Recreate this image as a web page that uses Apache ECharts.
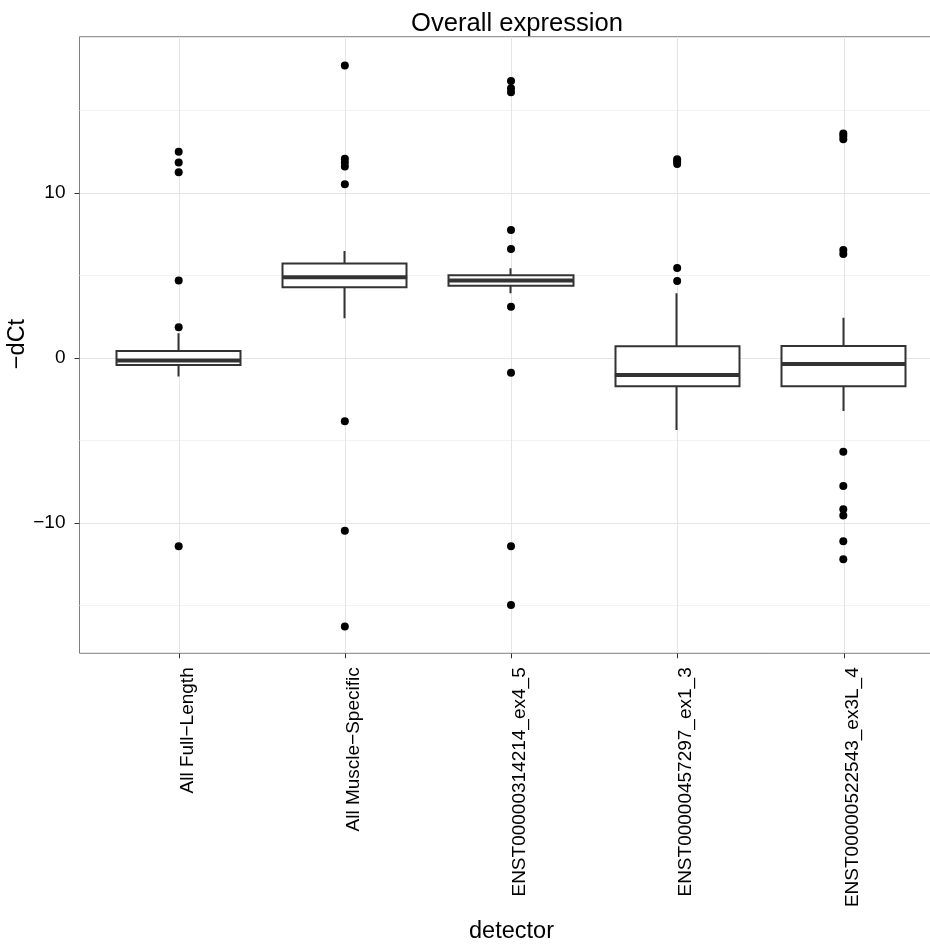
<!DOCTYPE html>
<html>
<head>
<meta charset="utf-8">
<script src="https://cdn.jsdelivr.net/npm/echarts@6/dist/echarts.min.js"></script>
<style>
html,body{margin:0;padding:0;background:#fff;}
#chart{width:930px;height:945px;}
</style>
</head>
<body>
<div id="chart"></div>
<script>
// ---- data ----
const categories = ['All Full\u2212Length', 'All Muscle\u2212Specific', 'ENST00000314214_ex4_5', 'ENST00000457297_ex1_3', 'ENST00000522543_ex3L_4'];
const whiskerLow  = [-1.13, 2.40, 3.92, -4.36, -3.21];
const boxQ1       = [-0.42, 4.28, 4.38, -1.72, -1.72];
const boxMedian   = [-0.16, 4.89, 4.69, -1.03, -0.36];
const boxQ3       = [0.42, 5.72, 5.01, 0.71, 0.73];
const whiskerHigh = [1.50, 6.48, 5.43, 3.92, 2.44];
const outliers1 = [12.5, 11.84, 11.25, 4.69, 1.86, -11.41];
const outliers2 = [17.72, 12.08, 11.84, 11.6, 10.53, -3.84, -10.48, -16.28];
const outliers3 = [16.79, 16.34, 16.1, 7.76, 6.6, 3.11, -0.89, -11.41, -14.97];
const outliers4 = [12.05, 11.9, 11.75, 5.45, 4.67];
const outliers5 = [13.6, 13.45, 13.25, 6.55, 6.3, -5.68, -7.76, -9.17, -9.55, -11.11, -12.2];
const yMajorTicks = [-10, 0, 10];
const yMinorGrid = [-15, -5, 5, 15];
const xPositions = [1, 2, 3, 4, 5];
const yRange = [-17.9, 19.47];
const xRange = [0.4, 5.6];

// ---- build ----
const outlierSets = [outliers1, outliers2, outliers3, outliers4, outliers5];
const outlierData = [];
outlierSets.forEach((arr, i) => arr.forEach(v => outlierData.push([i, v])));
const candleData = categories.map((c, i) => [boxQ1[i], boxQ3[i], whiskerLow[i], whiskerHigh[i]]);
const medianData = categories.map((c, i) => [i, boxMedian[i]]);

const FONT = "'Liberation Sans', Arial, Helvetica, sans-serif";
const G_TOP = 36.7, G_H = 616.6;
const G0_LEFT = 79.5, G0_W = 864;
const G1_LEFT = 95.6, G1_W = 830.8;
const boxW = G1_W / categories.length * 0.75;
const minus = v => String(v).replace('-', '\u2212');

const chart = echarts.init(document.getElementById('chart'), null, {renderer: 'canvas'});
chart.setOption({
  animation: false,
  backgroundColor: '#ffffff',
  textStyle: {fontFamily: FONT},
  title: {
    text: 'Overall expression',
    left: 512, top: 6, textAlign: 'center',
    textStyle: {fontFamily: FONT, fontSize: 25.6, fontWeight: 'normal', color: '#000'}
  },
  graphic: [
    {type: 'text', x: 18, y: 344, rotation: Math.PI / 2, silent: true,
     style: {text: '\u2212dCt', fill: '#000', font: '23.5px ' + FONT, align: 'center', verticalAlign: 'middle'}}
  ],
  grid: [
    {left: G0_LEFT, top: G_TOP, width: G0_W, height: G_H, show: true, outerBoundsMode: 'none',
     borderColor: '#7f7f7f', borderWidth: 1, backgroundColor: '#fff', containLabel: false},
    {left: G1_LEFT, top: G_TOP, width: G1_W, height: G_H, show: false, outerBoundsMode: 'none', containLabel: false}
  ],
  xAxis: [
    {gridIndex: 0, type: 'value', min: xRange[0], max: xRange[1],
     axisLine: {show: false, onZero: false},
     axisTick: {show: true, customValues: xPositions, length: 5, lineStyle: {color: '#333', width: 1}},
     axisLabel: {show: true, customValues: xPositions, rotate: 90, margin: 14,
       fontFamily: FONT, fontSize: 19, color: '#000', verticalAlign: 'top', lineHeight: 17,
       formatter: v => categories[Math.round(v) - 1]},
     splitLine: {show: true, lineStyle: {color: '#e5e5e5', width: 1}},
     name: 'detector', nameLocation: 'middle', nameGap: 266,
     nameTextStyle: {fontFamily: FONT, fontSize: 23.5, color: '#000'}},
    {gridIndex: 1, type: 'category', data: categories, boundaryGap: true, show: false,
     axisLine: {onZero: false}}
  ],
  yAxis: [
    {gridIndex: 0, type: 'value', min: yRange[0], max: yRange[1], position: 'left',
     axisLine: {show: false, onZero: false},
     axisTick: {show: true, customValues: yMajorTicks, length: 5, lineStyle: {color: '#333', width: 1}},
     axisLabel: {show: true, customValues: yMajorTicks, margin: 14, fontFamily: FONT, fontSize: 19, color: '#000',
       formatter: v => minus(v)},
     splitLine: {show: true, lineStyle: {color: '#e5e5e5', width: 1}}},
    {gridIndex: 0, type: 'value', min: yRange[0], max: yRange[1], position: 'left', offset: 0,
     axisLine: {show: false, onZero: false},
     axisTick: {show: false, customValues: yMinorGrid},
     axisLabel: {show: false, customValues: yMinorGrid},
     splitLine: {show: true, lineStyle: {color: '#f3f3f3', width: 1}}},
    {gridIndex: 1, type: 'value', min: yRange[0], max: yRange[1], show: false, axisLine: {onZero: false}}
  ],
  series: [
    {type: 'candlestick', xAxisIndex: 1, yAxisIndex: 2, data: candleData, barWidth: '75%', silent: true,
     itemStyle: {color: '#fff', color0: '#fff', borderColor: '#333', borderColor0: '#333', borderWidth: 2}},
    {type: 'scatter', xAxisIndex: 1, yAxisIndex: 2, data: medianData, symbol: 'rect',
     symbolSize: [boxW, 4], silent: true, itemStyle: {color: '#333', opacity: 1}},
    {type: 'scatter', xAxisIndex: 1, yAxisIndex: 2, data: outlierData, symbol: 'circle',
     symbolSize: 8, silent: true, itemStyle: {color: '#000', opacity: 1}}
  ]
});
</script>
</body>
</html>
